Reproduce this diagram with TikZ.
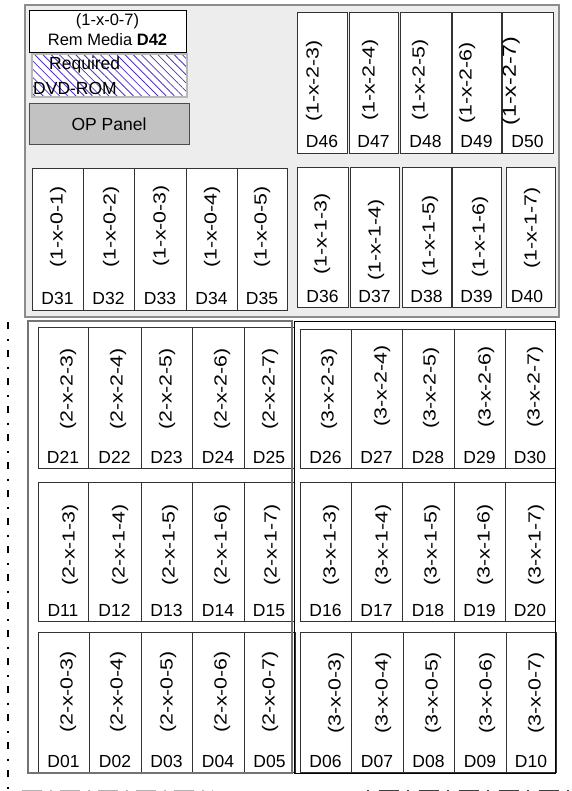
\documentclass[tikz,border=0pt]{standalone}
\usepackage{fontspec}
\setmainfont{Liberation Sans}
\newfontfamily\locfont[FakeStretch=1.22]{Liberation Sans}
\usetikzlibrary{patterns.meta}
\definecolor{BayGray}{rgb}{0.93,0.93,0.93}
\definecolor{HatchBlue}{rgb}{0.32,0.2,0.78}
\definecolor{PanelGray}{rgb}{0.76,0.76,0.76}

\begin{document}
\begin{tikzpicture}[x=1pt, y=-1pt,
		every node/.style={inner sep=0pt, font=\fontsize{17.5}{20}\selectfont},
		slot/.style={draw=black!80, line width=0.8pt, fill=white},
		loc/.style={rotate=90, font=\locfont\fontsize{17.5}{20}\selectfont},
		dnum/.style={anchor=base}]
		
		\useasboundingbox (0,0) rectangle (571,791);
		
		% system unit bay
		\draw[line width=1.8pt, draw=black!45, fill=BayGray] (25,5) rectangle (559,317);
		
		% removable media, DVD and panel
		\draw[line width=0.8pt, fill=white] (29,10) rectangle (186,52);
		\node[align=center, font=\fontsize{16.5}{20}\selectfont] (remmedia) at (107.5,30) {(1-x-0-7)\\Rem Media \textbf{D42}};
		\draw[line width=2.5pt, draw=black!28, preaction={fill=white},
			pattern={Lines[angle=-45, distance=5.8pt, line width=0.8pt]}, pattern color=HatchBlue] (32,54) rectangle (187,97);
		\node[anchor=base west] (req) at (49,70) {Required};
		\node[anchor=base west] (dvd) at (33,95) {DVD-ROM};
		\draw[line width=0.8pt, draw=black!70, fill=PanelGray] (29,103) rectangle (189,144);
		\node (oppanel) at (109,124) {OP Panel};
		
		% top bay, upper row
		\draw[slot] (297,12) rectangle (347,153) node[loc] (l46) at (314,81) {(1-x-2-3)} node[dnum] (d46) at (322,148) {D46};
		\draw[slot] (349,12) rectangle (398,153) node[loc] (l47) at (370,80) {(1-x-2-4)} node[dnum] (d47) at (373.5,148) {D47};
		\draw[slot] (400,12) rectangle (451,153) node[loc] (l48) at (420,80) {(1-x-2-5)} node[dnum] (d48) at (425.5,148) {D48};
		\draw[slot] (452,12) rectangle (501,153) node[loc] (l49) at (467,83) {(1-x-2-6)} node[dnum] (d49) at (476.5,148) {D49};
		\draw[slot] (502,12) rectangle (553,153) node[loc, font=\locfont\fontsize{19}{22}\selectfont] (l50) at (511,81) {(1-x-2-7)} node[dnum] (d50) at (527.5,148) {D50};
		
		% top bay, lower row
		\draw[slot] (32,168) rectangle (83,310) node[loc] (l31) at (58,227) {(1-x-0-1)} node[dnum] (d31) at (57.5,304) {D31};
		\draw[slot] (83,168) rectangle (134,310) node[loc] (l32) at (111,227) {(1-x-0-2)} node[dnum] (d32) at (108.5,304) {D32};
		\draw[slot] (134,168) rectangle (186,310) node[loc] (l33) at (161,226) {(1-x-0-3)} node[dnum] (d33) at (160,304) {D33};
		\draw[slot] (186,168) rectangle (237,310) node[loc] (l34) at (212,227) {(1-x-0-4)} node[dnum] (d34) at (211.5,304) {D34};
		\draw[slot] (237,168) rectangle (287,310) node[loc] (l35) at (262,227) {(1-x-0-5)} node[dnum] (d35) at (262,304) {D35};
		\draw[slot] (297,167) rectangle (348,307) node[loc] (l36) at (322,234) {(1-x-1-3)} node[dnum] (d36) at (322.5,302) {D36};
		\draw[slot] (350,167) rectangle (399,307) node[loc] (l37) at (376,240) {(1-x-1-4)} node[dnum] (d37) at (374.5,302) {D37};
		\draw[slot] (402,167) rectangle (451,307) node[loc] (l38) at (430,236) {(1-x-1-5)} node[dnum] (d38) at (426.5,302) {D38};
		\draw[slot] (452,167) rectangle (501,307) node[loc] (l39) at (480,237) {(1-x-1-6)} node[dnum] (d39) at (476.5,302) {D39};
		\draw[slot] (506,167) rectangle (555,307) node[loc] (l40) at (532,228) {(1-x-1-7)} node[dnum] (d40) at (527,302) {D40};
		
		% expansion drawers, row 2
		\draw[slot] (38,327) rectangle (88,468) node[loc] (l21) at (68,389) {(2-x-2-3)} node[dnum] (d21) at (63,463) {D21};
		\draw[slot] (88,327) rectangle (141,468) node[loc] (l22) at (118,389) {(2-x-2-4)} node[dnum] (d22) at (114.5,463) {D22};
		\draw[slot] (141,327) rectangle (192,468) node[loc] (l23) at (167,389) {(2-x-2-5)} node[dnum] (d23) at (166.5,463) {D23};
		\draw[slot] (192,327) rectangle (244,468) node[loc] (l24) at (222,389) {(2-x-2-6)} node[dnum] (d24) at (218,463) {D24};
		\draw[slot] (244,327) rectangle (294,468) node[loc] (l25) at (270,389) {(2-x-2-7)} node[dnum] (d25) at (269,463) {D25};
		\draw[slot] (300,329) rectangle (351,468) node[loc] (l26) at (329,389) {(3-x-2-3)} node[dnum] (d26) at (325.5,463) {D26};
		\draw[slot] (351,329) rectangle (402,468) node[loc] (l27) at (382,386) {(3-x-2-4)} node[dnum] (d27) at (376.5,463) {D27};
		\draw[slot] (402,329) rectangle (454,468) node[loc] (l28) at (431,388) {(3-x-2-5)} node[dnum] (d28) at (428,463) {D28};
		\draw[slot] (454,329) rectangle (505,468) node[loc] (l29) at (486,387) {(3-x-2-6)} node[dnum] (d29) at (479.5,463) {D29};
		\draw[slot] (505,329) rectangle (555,468) node[loc] (l30) at (535,387) {(3-x-2-7)} node[dnum] (d30) at (530,463) {D30};
		
		% expansion drawers, row 1
		\draw[slot] (38,482) rectangle (88,621) node[loc] (l11) at (70,545) {(2-x-1-3)} node[dnum] (d11) at (63,616) {D11};
		\draw[slot] (88,482) rectangle (141,621) node[loc] (l12) at (120,545) {(2-x-1-4)} node[dnum] (d12) at (114.5,616) {D12};
		\draw[slot] (141,482) rectangle (192,621) node[loc] (l13) at (170,545) {(2-x-1-5)} node[dnum] (d13) at (166.5,616) {D13};
		\draw[slot] (192,482) rectangle (244,621) node[loc] (l14) at (222,545) {(2-x-1-6)} node[dnum] (d14) at (218,616) {D14};
		\draw[slot] (244,482) rectangle (294,621) node[loc] (l15) at (272,545) {(2-x-1-7)} node[dnum] (d15) at (269,616) {D15};
		\draw[slot] (300,482) rectangle (351,621) node[loc] (l16) at (331,545) {(3-x-1-3)} node[dnum] (d16) at (325.5,616) {D16};
		\draw[slot] (351,482) rectangle (402,621) node[loc] (l17) at (383,545) {(3-x-1-4)} node[dnum] (d17) at (376.5,616) {D17};
		\draw[slot] (402,482) rectangle (454,621) node[loc] (l18) at (432,545) {(3-x-1-5)} node[dnum] (d18) at (428,616) {D18};
		\draw[slot] (454,482) rectangle (505,621) node[loc] (l19) at (485,545) {(3-x-1-6)} node[dnum] (d19) at (479.5,616) {D19};
		\draw[slot] (505,482) rectangle (555,621) node[loc] (l20) at (536,545) {(3-x-1-7)} node[dnum] (d20) at (530,616) {D20};
		
		% expansion drawers, row 0
		\draw[slot] (38,632) rectangle (89,772) node[loc] (l01) at (68,692) {(2-x-0-3)} node[dnum] (d01) at (63.5,767) {D01};
		\draw[slot] (89,632) rectangle (141,772) node[loc] (l02) at (118,692) {(2-x-0-4)} node[dnum] (d02) at (115,767) {D02};
		\draw[slot] (141,632) rectangle (192,772) node[loc] (l03) at (168,692) {(2-x-0-5)} node[dnum] (d03) at (166.5,767) {D03};
		\draw[slot] (192,632) rectangle (244,772) node[loc] (l04) at (222,692) {(2-x-0-6)} node[dnum] (d04) at (218,767) {D04};
		\draw[slot] (244,632) rectangle (295,772) node[loc] (l05) at (270,692) {(2-x-0-7)} node[dnum] (d05) at (269.5,767) {D05};
		\draw[slot] (300,632) rectangle (351,772) node[loc] (l06) at (336,693) {(3-x-0-3)} node[dnum] (d06) at (325.5,767) {D06};
		\draw[slot] (351,632) rectangle (403,772) node[loc] (l07) at (383,693) {(3-x-0-4)} node[dnum] (d07) at (377,767) {D07};
		\draw[slot] (403,632) rectangle (454,772) node[loc] (l08) at (433,693) {(3-x-0-5)} node[dnum] (d08) at (428.5,767) {D08};
		\draw[slot] (454,632) rectangle (506,772) node[loc] (l09) at (487,693) {(3-x-0-6)} node[dnum] (d09) at (480,767) {D09};
		\draw[slot] (506,632) rectangle (556,772) node[loc] (l10) at (536,693) {(3-x-0-7)} node[dnum] (d10) at (531,767) {D10};
		
		% drawer outlines
		\draw[line width=1.5pt, draw=black!55] (28,321) rectangle (292,773);
		\draw[line width=0.8pt] (294,321) rectangle (555,773);
		
		% rack edges
		\draw[line width=2.6pt, dash pattern=on 7pt off 9.5pt on 2pt off 9.5pt] (8,322) -- (8,791);
		\draw[line width=3pt, black!30, dash pattern=on 20pt off 8pt on 2pt off 8pt] (22,791) -- (213,791);
		\draw[line width=3pt, black!75, dash pattern=on 2pt off 10pt on 20pt off 8pt] (367,791) -- (571,791);
		
	\end{tikzpicture}
\end{document}
